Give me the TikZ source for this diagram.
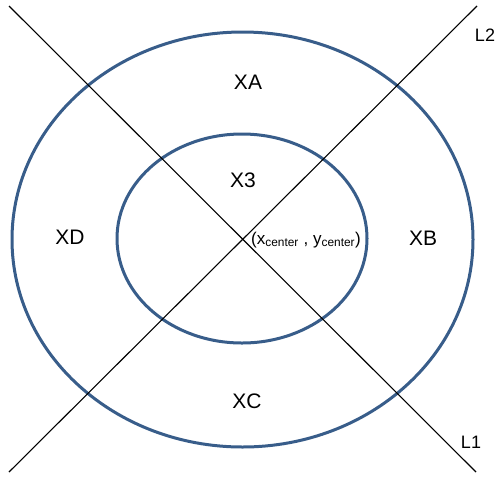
\documentclass[tikz,border=0pt]{standalone}
\usepackage{fontspec}
\setmainfont{Liberation Sans}
\usetikzlibrary{positioning}
\definecolor{ringblue}{RGB}{56,93,138}
\begin{document}
\begin{tikzpicture}[x=1pt, y=-1pt,
			every node/.style={font=\fontsize{21}{24}\selectfont, inner sep=0pt},
			ring/.style={draw=ringblue, line width=3pt},
			axis/.style={draw=black, line width=1.1pt},
			tag/.style={font=\fontsize{18}{21}\selectfont}]
			\useasboundingbox (0,0) rectangle (497,477);
			\draw[ring] (242.5,239.5) ellipse [x radius=230.5pt, y radius=207.5pt];
			\draw[ring] (242,238.5) ellipse [x radius=125pt, y radius=104.5pt];
			\coordinate (l1a) at (9,6);
			\coordinate (l1b) at (476,472);
			\coordinate (l2a) at (9,472);
			\coordinate (l2b) at (477,6);
			\draw[axis] (l1a) -- (l1b);
			\draw[axis] (l2a) -- (l2b);
			\node (xa) at (248,82) {XA};
			\node (xb) at (423,238) {XB};
			\node (xc) at (247,401) {XC};
			\node (xd) at (70,237) {XD};
			\node (x3) at (243,180) {X3};
			\node[anchor=west, font=\fontsize{17}{20}\selectfont] (ctr) at (251,240) {(x\textsubscript{center} , y\textsubscript{center})};
			\node[tag] (ltwo) at (485,35) {L2};
			\node[tag] (lone) at (471,442) {L1};
		\end{tikzpicture}
\end{document}
